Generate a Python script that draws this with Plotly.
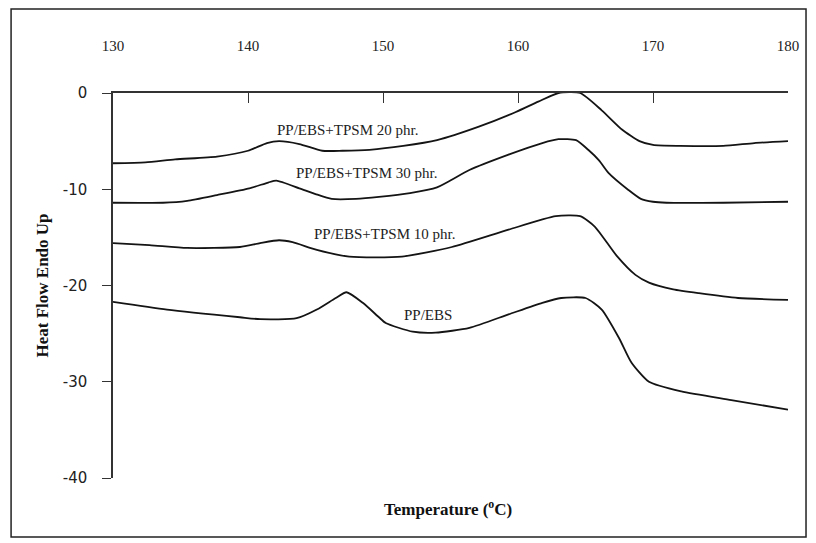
import plotly.graph_objects as go

# ---- data (Temperature °C, Heat flow) ----
t20 = [130, 132.4, 134.6, 137.7, 140.0, 141.4, 142.3, 143.8, 145.5, 147.0, 149.0, 151.5, 154.0, 157.1, 159.8, 161.5, 163.0, 164.6, 166.2, 167.7, 169.0, 170.0, 172.0, 175.2, 177.5, 180]
h20 = [-7.3, -7.2, -6.9, -6.6, -6.0, -5.2, -5.0, -5.3, -6.0, -6.0, -5.9, -5.5, -4.9, -3.5, -2.0, -0.9, 0.0, 0.0, -1.8, -3.8, -5.0, -5.4, -5.5, -5.5, -5.2, -5.0]

t30 = [130, 133.7, 135.5, 137.7, 140.1, 141.5, 142.1, 143.8, 145.0, 146.2, 148.0, 149.7, 152.0, 154.0, 156.4, 159.3, 161.8, 163.0, 164.3, 165.2, 166.0, 166.7, 168.2, 169.1, 170.0, 171.0, 175.2, 180]
h30 = [-11.4, -11.4, -11.2, -10.6, -9.9, -9.3, -9.1, -9.9, -10.5, -11.0, -11.0, -10.8, -10.4, -9.8, -8.0, -6.4, -5.2, -4.8, -4.9, -5.9, -7.0, -8.3, -10.1, -11.0, -11.3, -11.4, -11.4, -11.3]

t10 = [130, 132.7, 135.5, 139.4, 140.9, 142.3, 143.3, 145.1, 147.5, 151.4, 155.1, 159.3, 162.8, 164.6, 165.7, 167.3, 168.7, 169.7, 171.5, 173.4, 176.3, 180]
h10 = [-15.6, -15.8, -16.1, -16.0, -15.6, -15.3, -15.5, -16.3, -17.0, -17.0, -16.0, -14.2, -12.8, -12.8, -13.9, -16.9, -18.9, -19.7, -20.4, -20.8, -21.3, -21.5]

t0 = [130, 134.0, 139.4, 140.9, 143.6, 145.1, 146.5, 147.3, 148.5, 149.7, 150.2, 152.2, 153.9, 156.4, 159.3, 161.8, 163.2, 165.0, 166.2, 167.5, 168.4, 169.7, 172.1, 175.8, 180]
h0 = [-21.7, -22.5, -23.3, -23.5, -23.4, -22.5, -21.3, -20.7, -21.8, -23.3, -23.9, -24.8, -24.9, -24.4, -23.0, -21.8, -21.3, -21.3, -22.5, -25.5, -28.0, -30.0, -31.0, -31.9, -32.9]

series_names = ["PP/EBS+TPSM 20 phr.", "PP/EBS+TPSM 30 phr.", "PP/EBS+TPSM 10 phr.", "PP/EBS"]
label_x = [147.4, 148.8, 150.1, 153.3]
label_y = [-3.85, -8.3, -14.7, -23.05]

x_ticks = [130, 140, 150, 160, 170, 180]
y_ticks = [0, -10, -20, -30, -40]
y_tick_text = ["0", "-10", "-20", "-30", "-40"]

fig = go.Figure()
for tx, hy, nm in [(t20, h20, series_names[0]), (t30, h30, series_names[1]),
                   (t10, h10, series_names[2]), (t0, h0, series_names[3])]:
    fig.add_trace(go.Scatter(x=tx, y=hy, mode="lines", name=nm,
                             line=dict(color="#141414", width=1.8, shape="spline", smoothing=0.6),
                             showlegend=False))

for nm, lx, ly in zip(series_names, label_x, label_y):
    fig.add_annotation(x=lx, y=ly, text=nm, showarrow=False,
                       font=dict(family="Liberation Serif", size=15, color="#222"))

fig.add_annotation(xref="paper", yref="paper", x=0.497, y=-0.078, yanchor="middle",
                   text="<b>Temperature (<sup>o</sup>C)</b>", showarrow=False,
                   font=dict(family="Liberation Serif", size=17, color="#111"))

# outer frame
fig.add_shape(type="rect", xref="paper", yref="paper",
              x0=-0.151, x1=1.0267, y0=-0.153, y1=1.218,
              line=dict(color="#222", width=1.5))

fig.update_layout(
    width=816, height=543,
    margin=dict(l=113, r=28, t=93, b=65),
    paper_bgcolor="white", plot_bgcolor="white",
    xaxis=dict(range=[130, 180], side="top", tickvals=x_ticks,
               ticks="inside", ticklen=10, tickcolor="#333", tickwidth=1.3,
               showline=True, linecolor="#333", linewidth=1.5,
               showgrid=False, zeroline=False, ticklabelstandoff=34,
               tickfont=dict(family="Liberation Serif", size=15, color="#222")),
    yaxis=dict(range=[-40, 0], tickvals=y_ticks, ticktext=y_tick_text,
               ticks="outside", ticklen=9, tickcolor="#333", tickwidth=1.3,
               showline=True, linecolor="#333", linewidth=1.5,
               showgrid=False, zeroline=False, ticklabelstandoff=12,
               tickfont=dict(family="DejaVu Sans", size=15, color="#222"),
               title=dict(text="<b>Heat Flow Endo Up</b>", standoff=10,
                          font=dict(family="Liberation Serif", size=17, color="#111"))),
)

fig.write_html("out.html")
